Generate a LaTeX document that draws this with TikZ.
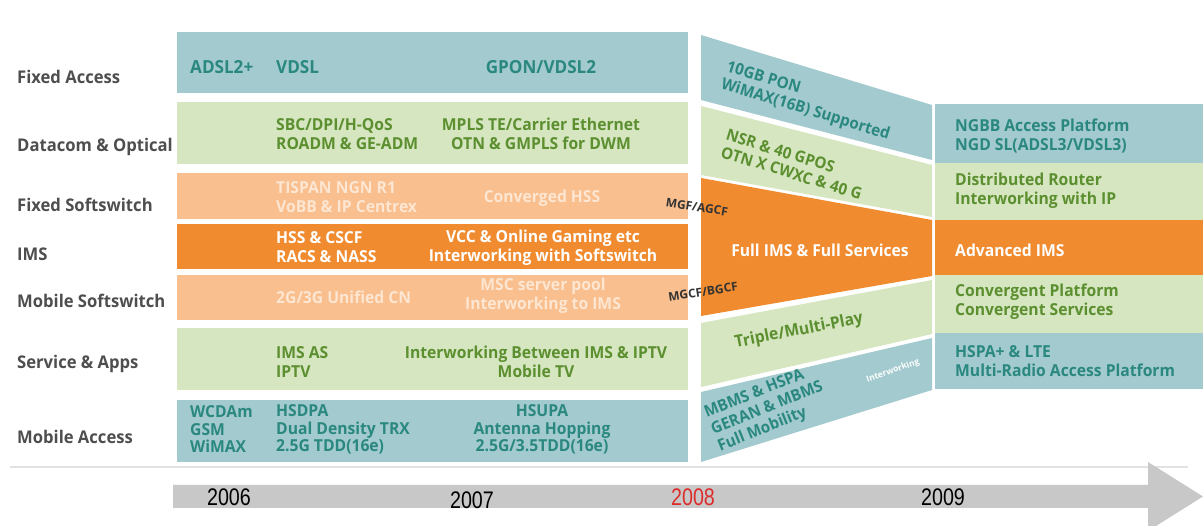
\documentclass[tikz,border=0pt]{standalone}
\usepackage{fontspec}
\setmainfont{Open Sans}
\newfontfamily\boxfont[FakeStretch=0.95]{Open Sans}
\newfontfamily\yearfont[FakeStretch=0.82]{Liberation Sans}
\definecolor{tealbox}{HTML}{A3CACE}
\definecolor{greenbox}{HTML}{D5E6C0}
\definecolor{lorange}{HTML}{F9BF8E}
\definecolor{orange}{HTML}{F18B2F}
\definecolor{tealtext}{HTML}{2A8880}
\definecolor{greentext}{HTML}{5C8F2F}
\definecolor{lotext}{HTML}{FDE6D2}
\definecolor{labgray}{HTML}{4E4E4E}
\definecolor{bargray}{HTML}{C8C8C8}
\definecolor{linegray}{HTML}{E2E2E2}
\definecolor{yearred}{HTML}{DD2C2C}
\tikzset{
  lab/.style={font=\boxfont\fontsize{17.5}{20}\selectfont\bfseries, text=labgray, anchor=west, inner sep=0},
  bt/.style={font=\boxfont\fontsize{16.5}{19}\selectfont\bfseries, inner sep=0, align=left},
  btc/.style={font=\boxfont\fontsize{16.5}{19}\selectfont\bfseries, inner sep=0, align=center},
  big/.style={font=\boxfont\fontsize{18}{20}\selectfont\bfseries},
  three/.style={font=\boxfont\fontsize{16.5}{17.5}\selectfont\bfseries},
  slantblock/.style={font=\boxfont\fontsize{16}{18}\selectfont\bfseries},
  tt/.style={bt, text=tealtext},
  gt/.style={bt, text=greentext},
  wt/.style={bt, text=white},
  lt/.style={bt, text=lotext},
  small/.style={font=\fontsize{12}{14}\selectfont\bfseries, text=black!80, inner sep=0},
  year/.style={font=\yearfont\fontsize{24}{26}\selectfont, text=black, inner sep=0},
}
\begin{document}
\begin{tikzpicture}[x=1pt,y=-1pt]
\useasboundingbox (0,0) rectangle (1203,526);
\fill[white] (0,0) rectangle (1203,526);
% left block
\fill[tealbox]  (177,32) rectangle (688,93);
\fill[greenbox] (177,102) rectangle (688,164);
\fill[lorange]  (177,173) rectangle (688,219);
\fill[orange]   (177,224) rectangle (688,269);
\fill[lorange]  (177,275) rectangle (688,320);
\fill[greenbox] (177,328) rectangle (688,390);
\fill[tealbox]  (177,400) rectangle (688,462);
% middle slanted
\fill[tealbox]  (701,35) -- (932,105) -- (932,160) -- (701,100) -- cycle;
\fill[greenbox] (701,106) -- (932,165) -- (932,217) -- (701,175) -- cycle;
\fill[orange]   (701,178) -- (932,220) -- (932,276) -- (701,316) -- cycle;
\fill[greenbox] (701,323) -- (932,280) -- (932,334) -- (701,387) -- cycle;
\fill[tealbox]  (701,392) -- (932,338) -- (932,390) -- (701,462) -- cycle;
% right block
\fill[tealbox]  (935,104) rectangle (1203,163);
\fill[greenbox] (935,163) rectangle (1203,220);
\fill[orange]   (935,220) rectangle (1203,275);
\fill[greenbox] (935,275) rectangle (1203,333);
\fill[tealbox]  (935,333) rectangle (1203,389);
% separator line and timeline arrow
\draw[linegray, line width=1.5pt] (10,467) -- (1188,467);
\fill[bargray] (173,485) -- (1148,485) -- (1148,462) -- (1203,496.5) -- (1148,531) -- (1148,508) -- (173,508) -- cycle;
% left labels
\node[lab] (l1) at (17,77) {Fixed Access};
\node[lab] (l2) at (17,147) {Datacom \& Optical};
\node[lab] (l3) at (17,205) {Fixed Softswitch};
\node[lab] (l4) at (17,254) {IMS};
\node[lab] (l5) at (17,301) {Mobile Softswitch};
\node[lab] (l6) at (17,364) {Service \& Apps};
\node[lab] (l7) at (17,437) {Mobile Access};
% row 1
\node[tt, big, anchor=west] (a1) at (190,67) {ADSL2+};
\node[tt, big, anchor=west] (a2) at (276,67) {VDSL};
\node[tt, big] (a3) at (541,67) {GPON/VDSL2};
% row 2
\node[gt, anchor=west] (b1) at (276,134) {SBC/DPI/H-QoS\\ROADM \& GE-ADM};
\node[btc, text=greentext] (b2) at (541,134) {MPLS TE/Carrier Ethernet\\OTN \& GMPLS for DWM};
% row 3
\node[lt, anchor=west] (c1) at (276,197) {TISPAN NGN R1\\VoBB \& IP Centrex};
\node[lt] (c2) at (542,198) {Converged HSS};
% row 4
\node[wt, anchor=west] (d1) at (276,247.5) {HSS \& CSCF\\RACS \& NASS};
\node[btc, text=white] (d2) at (543,247.5) {VCC \& Online Gaming etc\\Interworking with Softswitch};
% row 5
\node[lt, anchor=west] (e1) at (276,297) {2G/3G Unified CN};
\node[btc, text=lotext] (e2) at (543,296) {MSC server pool\\Interworking to IMS};
% row 6
\node[gt, anchor=west] (f1) at (276,362) {IMS AS\\IPTV};
\node[btc, text=greentext] (f2) at (536,362) {Interworking Between IMS \& IPTV\\Mobile TV};
% row 7
\node[tt, three, anchor=west] (g1) at (190,429.5) {WCDAm\\GSM\\WiMAX};
\node[tt, three, anchor=west] (g2) at (276,429.5) {HSDPA\\Dual Density TRX\\2.5G TDD(16e)};
\node[btc, three, text=tealtext] (g3) at (542,429.5) {HSUPA\\Antenna Hopping\\2.5G/3.5TDD(16e)};
% middle texts
\node[tt, slantblock, anchor=west, rotate=-17] (m1) at (724,76) {10GB PON\\WiMAX(16B) Supported};
\node[gt, slantblock, anchor=west, rotate=-17] (m3) at (724,143) {NSR \& 40 GPOS\\OTN X CWXC \& 40 G};
\node[small, rotate=-9] (m5) at (697,207) {MGF/AGCF};
\node[wt] (m6) at (820,250) {Full IMS \& Full Services};
\node[small, rotate=9] (m7) at (703,292) {MGCF/BGCF};
\node[gt, rotate=11] (m8) at (799,331) {Triple/Multi-Play};
\node[tt, slantblock, anchor=west, rotate=22] (m9) at (712,431) {MBMS \& HSPA\\GERAN \& MBMS\\Full Mobility};
\node[font=\fontsize{8.5}{10}\selectfont\bfseries, text=white, inner sep=0, rotate=20] (m12) at (893,371) {Interworking};
% right texts
\node[tt, anchor=west] (r1) at (955,136) {NGBB Access Platform\\NGD SL(ADSL3/VDSL3)};
\node[gt, anchor=west] (r2) at (955,191) {Distributed Router\\Interworking with IP};
\node[wt, anchor=west] (r3) at (955,250) {Advanced IMS};
\node[gt, anchor=west] (r4) at (955,302) {Convergent Platform\\Convergent Services};
\node[tt, anchor=west] (r5) at (955,361) {HSPA+ \& LTE\\Multi-Radio Access Platform};
% years
\node[year] (y6) at (229,497) {2006};
\node[year] (y7) at (472,500) {2007};
\node[year, text=yearred] (y8) at (693,497) {2008};
\node[year] (y9) at (943,497) {2009};
\end{tikzpicture}
\end{document}
